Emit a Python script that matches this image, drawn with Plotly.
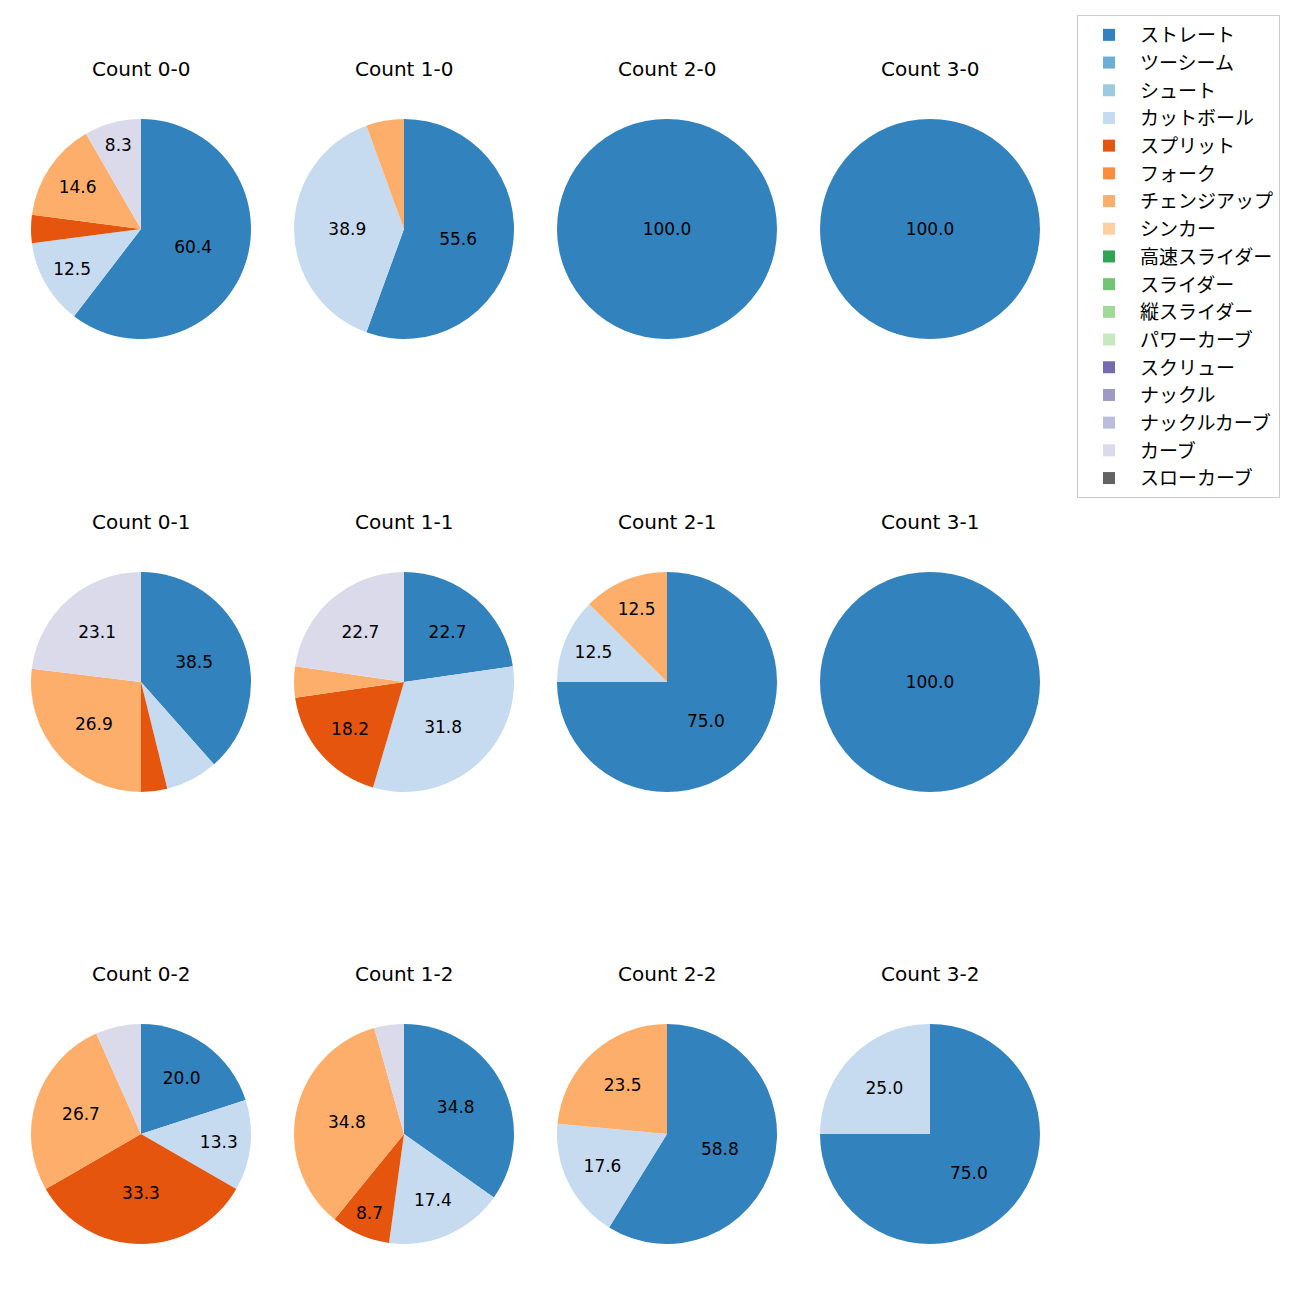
import plotly.graph_objects as go

pitch_types = ["ストレート", "ツーシーム", "シュート", "カットボール", "スプリット", "フォーク",
               "チェンジアップ", "シンカー", "高速スライダー", "スライダー", "縦スライダー",
               "パワーカーブ", "スクリュー", "ナックル", "ナックルカーブ", "カーブ", "スローカーブ"]
colors = ["#3182bd", "#6baed6", "#9ecae1", "#c6dbef", "#e6550d", "#fd8d3c", "#fdae6b",
          "#fdd0a2", "#31a354", "#74c476", "#a1d99b", "#c7e9c0", "#756bb1", "#9e9ac8",
          "#bcbddc", "#dadaeb", "#636363"]

count_titles = ["Count 0-0", "Count 1-0", "Count 2-0", "Count 3-0",
                "Count 0-1", "Count 1-1", "Count 2-1", "Count 3-1",
                "Count 0-2", "Count 1-2", "Count 2-2", "Count 3-2"]

# pitch counts per count situation
c00 = {"ストレート": 29, "カットボール": 6, "スプリット": 2, "チェンジアップ": 7, "カーブ": 4}
c10 = {"ストレート": 10, "カットボール": 7, "チェンジアップ": 1}
c20 = {"ストレート": 5}
c30 = {"ストレート": 2}
c01 = {"ストレート": 10, "カットボール": 2, "スプリット": 1, "チェンジアップ": 7, "カーブ": 6}
c11 = {"ストレート": 5, "カットボール": 7, "スプリット": 4, "チェンジアップ": 1, "カーブ": 5}
c21 = {"ストレート": 6, "カットボール": 1, "チェンジアップ": 1}
c31 = {"ストレート": 3}
c02 = {"ストレート": 3, "カットボール": 2, "スプリット": 5, "チェンジアップ": 4, "カーブ": 1}
c12 = {"ストレート": 8, "カットボール": 4, "スプリット": 2, "チェンジアップ": 8, "カーブ": 1}
c22 = {"ストレート": 10, "カットボール": 3, "チェンジアップ": 4}
c32 = {"ストレート": 3, "カットボール": 1}

all_counts = [c00, c10, c20, c30, c01, c11, c21, c31, c02, c12, c22, c32]

fig = go.Figure()

W = 1300
col_centers = [141, 404, 667, 930]
row_centers = [229, 682, 1134]
R = 110

for i, (title, cnt) in enumerate(zip(count_titles, all_counts)):
    r, c = divmod(i, 4)
    if i == 0:
        labels = pitch_types
        vals = [cnt.get(p, 0) for p in pitch_types]
    else:
        labels = [p for p in pitch_types if cnt.get(p, 0) > 0]
        vals = [cnt[p] for p in labels]
    tot = sum(vals)
    texts = []
    for v in vals:
        pct = 100 * v / tot
        texts.append(f"{pct:.1f}" if pct >= 8 else "")
    cx, cy = col_centers[c], row_centers[r]
    fig.add_trace(go.Pie(
        labels=labels, values=vals, text=texts, textinfo="text",
        textposition="inside", insidetextorientation="horizontal",
        marker=dict(colors=[colors[pitch_types.index(l)] for l in labels]),
        sort=False, direction="clockwise", rotation=0,
        domain=dict(x=[(cx - R) / W, (cx + R) / W], y=[1 - (cy + R) / W, 1 - (cy - R) / W]),
        textfont=dict(size=17, color="black", family="DejaVu Sans"),
        showlegend=(i == 0), hoverinfo="label+percent",
    ))
    fig.add_annotation(text=title, x=cx / W, y=1 - (cy - 160) / W, xref="paper", yref="paper",
                       showarrow=False, font=dict(size=20, color="black", family="DejaVu Sans"),
                       xanchor="center", yanchor="middle")

fig.update_layout(
    width=1300, height=1300, margin=dict(l=0, r=0, t=0, b=0),
    paper_bgcolor="white", plot_bgcolor="white",
    font=dict(family="Noto Sans CJK JP", color="black"),
    legend=dict(x=1077 / W, y=1 - 15 / W, xanchor="left", yanchor="top",
                bordercolor="#cccccc", borderwidth=1, font=dict(size=19, family="Noto Sans CJK JP"),
                traceorder="normal", itemwidth=52),
)

fig.write_html("out.html")
